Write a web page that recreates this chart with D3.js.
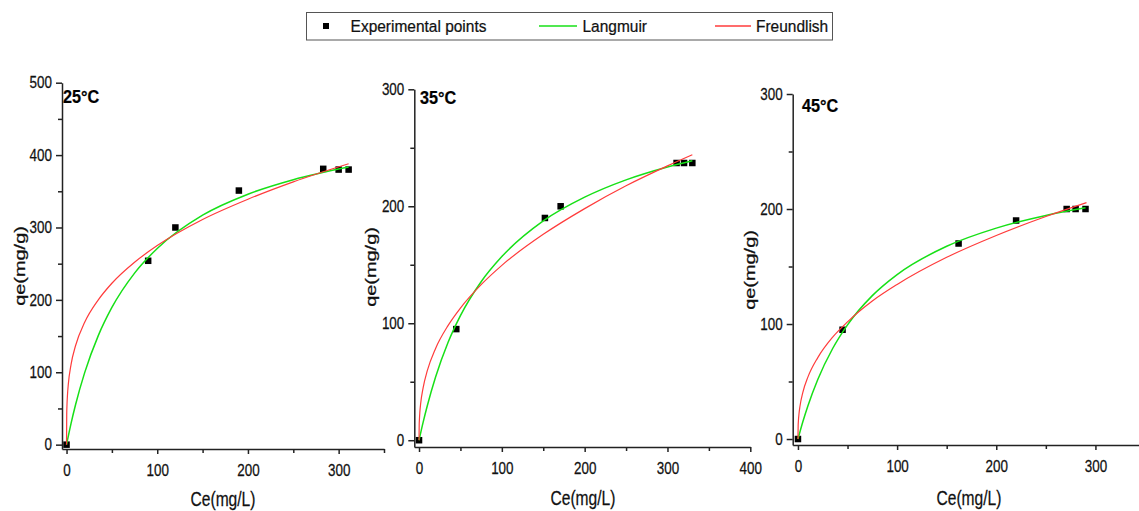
<!DOCTYPE html>
<html>
<head>
<meta charset="utf-8">
<script src="https://cdn.jsdelivr.net/npm/d3@7"></script>
<style>
  html, body { margin: 0; padding: 0; background: #fff; }
  svg { display: block; font-family: "Liberation Sans", Arial, sans-serif; }
</style>
</head>
<body>
<svg id="chart" width="1139" height="511"></svg>
<script>
// ---------- DATA ----------
const panelTitles = ["25\u00B0C", "35\u00B0C", "45\u00B0C"];
const legendLabels = ["Experimental points", "Langmuir", "Freundlish"];
const xTitle = "Ce(mg/L)";
const yTitle = "qe(mg/g)";

// 25°C
const ce25 = [0, 90, 120, 190, 283, 300, 311];
const qe25 = [0, 254, 300, 351, 381, 380, 380];
const langCe25 = [0, 5, 10, 20, 35, 50, 75, 100, 150, 200, 250, 311];
const langQe25 = [0, 29.5, 55.5, 99.5, 150.6, 189.5, 237, 271, 317, 346, 366, 383.5];
const freCe25 = [0, 0.2, 0.5, 1, 2, 5, 10, 20, 35, 50, 75, 100, 150, 200, 250, 311];
const freQe25 = [0, 41.7, 55, 68, 84, 111, 137, 169, 200, 223, 252, 275, 311, 339, 363, 388];
const xTicks25 = [0, 100, 200, 300];
const yTicks25 = [0, 100, 200, 300, 400, 500];

// 35°C
const ce35 = [0, 45, 152, 171, 311, 320, 330];
const qe35 = [0, 95, 190, 200, 237, 237, 237];
const langCe35 = [0, 5, 10, 20, 35, 50, 75, 100, 150, 200, 250, 300, 330];
const langQe35 = [0, 15.5, 29.5, 54, 83.5, 106.5, 135.5, 157, 187.5, 207.8, 222.6, 233.6, 239];
const freCe35 = [0, 0.2, 0.5, 1, 2, 5, 10, 20, 35, 50, 75, 100, 150, 200, 250, 300, 330];
const freQe35 = [0, 12.5, 18, 24, 31.5, 45, 59.5, 78.5, 98, 113, 133, 149.5, 176, 198, 217.5, 234.5, 244];
const xTicks35 = [0, 100, 200, 300, 400];
const yTicks35 = [0, 100, 200, 300];

// 45°C
const ce45 = [0, 45, 162, 220, 271, 280, 290];
const qe45 = [0, 95, 170, 190, 200, 200, 200];
const langCe45 = [0, 5, 10, 20, 35, 50, 75, 100, 150, 200, 250, 290];
const langQe45 = [0, 15.3, 28.8, 51.8, 78.7, 99.3, 124.7, 143, 167.6, 183.4, 194.4, 201];
const freCe45 = [0, 0.2, 0.5, 1, 2, 5, 10, 20, 35, 50, 75, 100, 150, 200, 250, 291];
const freQe45 = [0, 11.3, 16.3, 21.5, 28.3, 40.8, 53.8, 70.8, 88.6, 101.9, 120, 134.4, 158, 177, 193.5, 205.6];
const xTicks45 = [0, 100, 200, 300];
const yTicks45 = [0, 100, 200, 300];

// ---------- LAYOUT ----------
const GREEN = "#17e017";
const RED = "#ff3b3b";
const AXIS = "#222";
const INK = "#111";

const panels = [
  { title: panelTitles[0], ce: ce25, qe: qe25, lc: langCe25, lq: langQe25, fc: freCe25, fq: freQe25,
    xd: [-5, 350], xr: [62, 384], yd: [-6, 500], yr: [449, 82.7], xt: xTicks25, yt: yTicks25, xmax: 350,
    titlePos: [63, 103], xTitlePos: [223, 506], yTitlePos: [20, 266] },
  { title: panelTitles[1], ce: ce35, qe: qe35, lc: langCe35, lq: langQe35, fc: freCe35, fq: freQe35,
    xd: [-5.7, 400], xr: [414.3, 750.3], yd: [-5.8, 300], yr: [447, 89.3], xt: xTicks35, yt: yTicks35, xmax: 400,
    titlePos: [420, 104], xTitlePos: [583, 505], yTitlePos: [371, 267] },
  { title: panelTitles[2], ce: ce45, qe: qe45, lc: langCe45, lq: langQe45, fc: freCe45, fq: freQe45,
    xd: [-5.3, 350], xr: [792.7, 1145], yd: [-5.2, 300], yr: [445, 94], xt: xTicks45, yt: yTicks45, xmax: 350,
    titlePos: [802, 111.7], xTitlePos: [969, 505], yTitlePos: [750, 270] }
];

const svg = d3.select("#chart");

function scaledText(sel, sx, origin) {
  sel.style("transform-box", "fill-box")
     .style("transform-origin", origin)
     .style("transform", `scaleX(${sx})`)
     .attr("stroke", INK).attr("stroke-width", 0.25);
}

panels.forEach(p => {
  const x = d3.scaleLinear().domain(p.xd).range(p.xr);
  const y = d3.scaleLinear().domain(p.yd).range(p.yr);
  const g = svg.append("g");

  const xMinor = d3.range(50, p.xmax + 1, 100);
  const yMinor = d3.range(50, p.yd[1], 100);

  // X axis
  const xAxisG = g.append("g").attr("transform", `translate(0,${p.yr[0]})`)
    .call(d3.axisBottom(x).tickValues(p.xt).tickSize(5).tickSizeOuter(0).tickPadding(11)
      .tickFormat(d3.format("d")));
  g.append("g").attr("transform", `translate(0,${p.yr[0]})`)
    .call(d3.axisBottom(x).tickValues(xMinor).tickSize(4).tickSizeOuter(0).tickFormat(""))
    .select(".domain").remove();

  // Y axis
  const yAxisG = g.append("g").attr("transform", `translate(${p.xr[0]},0)`)
    .call(d3.axisLeft(y).tickValues(p.yt).tickSize(6).tickSizeOuter(0).tickPadding(4)
      .tickFormat(d3.format("d")));
  g.append("g").attr("transform", `translate(${p.xr[0]},0)`)
    .call(d3.axisLeft(y).tickValues(yMinor).tickSize(4).tickSizeOuter(0).tickFormat(""))
    .select(".domain").remove();

  g.selectAll(".domain, .tick line").attr("stroke", AXIS).attr("stroke-width", 1.5);
  xAxisG.selectAll("text").attr("font-size", 16).attr("fill", INK)
    .attr("font-family", "Liberation Sans, Arial, sans-serif")
    .call(s => scaledText(s, 0.84, "center"));
  yAxisG.selectAll("text").attr("font-size", 16).attr("fill", INK)
    .attr("font-family", "Liberation Sans, Arial, sans-serif")
    .call(s => scaledText(s, 0.84, "right"));

  // points
  const pts = p.ce.map((c, i) => [c, p.qe[i]]);
  g.append("g").selectAll("rect").data(pts).join("rect")
    .attr("x", d => x(d[0]) - 3.25).attr("y", d => y(d[1]) - 3.25)
    .attr("width", 6.5).attr("height", 6.5).attr("fill", "#000");

  // curves
  const line = d3.line().x(d => x(d[0])).y(d => y(d[1])).curve(d3.curveMonotoneX);
  g.append("path").datum(p.lc.map((c, i) => [c, p.lq[i]]))
    .attr("d", line).attr("fill", "none").attr("stroke", GREEN).attr("stroke-width", 1.5);
  g.append("path").datum(p.fc.map((c, i) => [c, p.fq[i]]))
    .attr("d", line).attr("fill", "none").attr("stroke", RED).attr("stroke-width", 1.2);

  // panel title
  g.append("text").attr("x", p.titlePos[0]).attr("y", p.titlePos[1])
    .attr("font-size", 18).attr("font-weight", "bold").attr("fill", "#000")
    .text(p.title).call(s => scaledText(s, 0.9, "left"));

  // axis titles
  g.append("text").attr("x", p.xTitlePos[0]).attr("y", p.xTitlePos[1])
    .attr("text-anchor", "middle").attr("font-size", 20).attr("fill", INK)
    .text(xTitle).call(s => scaledText(s, 0.78, "center"));
  g.append("g").attr("transform", `translate(${p.yTitlePos[0]},${p.yTitlePos[1]}) rotate(-90)`)
    .append("text").attr("text-anchor", "middle").attr("dy", "0.35em")
    .attr("font-size", 15).attr("fill", INK)
    .text(yTitle).call(s => scaledText(s, 1.33, "center"));
});

// ---------- LEGEND ----------
const lg = svg.append("g");
lg.append("rect").attr("x", 306.5).attr("y", 12.5).attr("width", 526).attr("height", 27.5)
  .attr("fill", "#fff").attr("stroke", "#555").attr("stroke-width", 1);
lg.append("rect").attr("x", 323).attr("y", 23).attr("width", 6).attr("height", 6).attr("fill", "#000");
lg.append("line").attr("x1", 539).attr("x2", 577).attr("y1", 26).attr("y2", 26)
  .attr("stroke", GREEN).attr("stroke-width", 1.3);
lg.append("line").attr("x1", 715).attr("x2", 751).attr("y1", 26).attr("y2", 26)
  .attr("stroke", RED).attr("stroke-width", 1.3);
const legendX = [350.6, 582.5, 756];
legendLabels.forEach((t, i) => {
  lg.append("text").attr("x", legendX[i]).attr("y", 32).attr("font-size", 17).attr("fill", INK)
    .text(t).call(s => scaledText(s, 0.91, "left"));
});
</script>
</body>
</html>
